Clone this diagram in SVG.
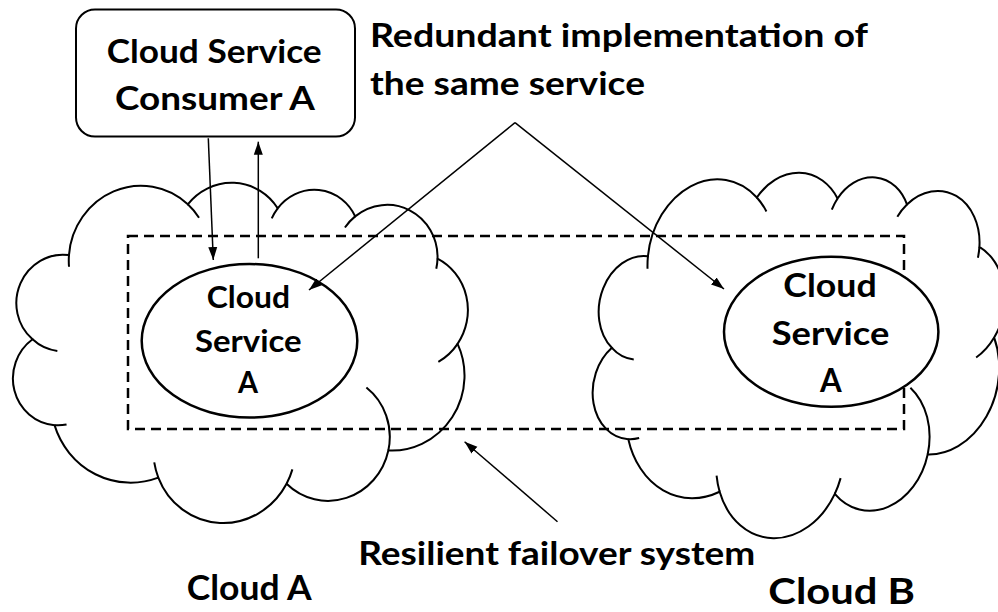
<svg xmlns="http://www.w3.org/2000/svg" width="998" height="612" viewBox="0 0 998 612">
<defs>
<style>
.cl{fill:none;stroke:#000;stroke-width:2;vector-effect:non-scaling-stroke}
.el{fill:#fff;stroke:#000;stroke-width:2.5}
.box{fill:#fff;stroke:#000;stroke-width:2}
.dash{fill:none;stroke:#000;stroke-width:2.5;stroke-dasharray:10 6}
.ln{fill:none;stroke:#000;stroke-width:1.5;marker-end:url(#ah)}
.t{font-family:Lato,"Open Sans","Liberation Sans",sans-serif;font-weight:700;fill:#000}
</style>
<marker id="ah" markerUnits="userSpaceOnUse" markerWidth="14" markerHeight="10" refX="13" refY="5" orient="auto">
<path d="M0,0.5 L13,5 L0,9.5 z" fill="#000"/>
</marker>
</defs>
<rect width="998" height="612" fill="#fff"/>

<g id="cloudA" transform="translate(239.5,349.4) rotate(11.6) scale(0.010509,0.0080324) translate(-21600,-21600)">
<path class="cl" d="M3900 14370 A6753 9190 0 0 1 14005 5202 A5333 7267 0 0 1 22459 3434 A4365 5945 0 0 1 29836 2482 A4857 6595 0 0 1 38322 5576 A5333 7273 0 0 1 41822 15460 A6775 9220 0 0 1 37408 30203 A5785 7867 0 0 1 28559 36813 A6752 9215 0 0 1 16484 39265 A7720 10543 0 0 1 5807 35469 A4360 5918 0 0 1 2116 25548 A4345 5945 0 0 1 3900 14370 Z"/>
<path class="cl" d="M4649 26344 A4345 5945 0 0 1 2116 25548 M6915 35088 A4360 5918 0 0 1 5807 35469 M16484 39265 A6752 9215 0 0 1 15816 37523 M28826 34904 A6752 9215 0 0 1 28559 36813 M34157 23068 A5785 7867 0 0 1 37408 30203 M41822 15460 A5333 7273 0 0 1 40374 18137 M38322 5576 A4857 6595 0 0 1 38398 6840 M29095 4094 A4857 6595 0 0 1 29836 2482 M22100 4823 A4365 5945 0 0 1 22459 3434 M14005 5202 A6753 9190 0 0 1 15308 6555 M4127 15788 A6753 9190 0 0 1 3900 14370"/>
</g>

<g id="cloudB" transform="translate(797.7,351.3) rotate(11.7) scale(0.009375,0.0086806) translate(-21600,-21600)">
<path class="cl" d="M3900 14370 A6753 9190 0 0 1 14005 5202 A5333 7267 0 0 1 22459 3434 A4365 5945 0 0 1 29836 2482 A4857 6595 0 0 1 38322 5576 A5333 7273 0 0 1 41822 15460 A6775 9220 0 0 1 37408 30203 A5785 7867 0 0 1 28559 36813 A6752 9215 0 0 1 16484 39265 A7720 10543 0 0 1 5807 35469 A4360 5918 0 0 1 2116 25548 A4345 5945 0 0 1 3900 14370 Z"/>
<path class="cl" d="M4649 26344 A4345 5945 0 0 1 2116 25548 M6915 35088 A4360 5918 0 0 1 5807 35469 M16484 39265 A6752 9215 0 0 1 15816 37523 M28826 34904 A6752 9215 0 0 1 28559 36813 M34157 23068 A5785 7867 0 0 1 37408 30203 M41822 15460 A5333 7273 0 0 1 40374 18137 M38322 5576 A4857 6595 0 0 1 38398 6840 M29095 4094 A4857 6595 0 0 1 29836 2482 M22100 4823 A4365 5945 0 0 1 22459 3434 M14005 5202 A6753 9190 0 0 1 15308 6555 M4127 15788 A6753 9190 0 0 1 3900 14370"/>
</g>

<g id="failoverSystem">
<rect class="dash" x="128" y="236" width="776" height="193"/>
</g>

<g id="consumer">
<rect class="box" x="76" y="9.5" width="279" height="127" rx="19" ry="19"/>
<text class="t" x="106.7" y="63.3" font-size="32.5" textLength="215" lengthAdjust="spacingAndGlyphs">Cloud Service</text>
<text class="t" x="115" y="110" font-size="32.5" textLength="200" lengthAdjust="spacingAndGlyphs">Consumer A</text>
</g>

<g id="serviceA">
<ellipse class="el" cx="249.5" cy="340.8" rx="107.8" ry="76.8"/>
<text class="t" x="206.7" y="308.3" font-size="30" textLength="83.3" lengthAdjust="spacingAndGlyphs">Cloud</text>
<text class="t" x="195" y="351.7" font-size="30" textLength="106.7" lengthAdjust="spacingAndGlyphs">Service</text>
<text class="t" x="238" y="393.3" font-size="30" textLength="20" lengthAdjust="spacingAndGlyphs">A</text>
</g>

<g id="serviceB">
<ellipse class="el" cx="831.2" cy="331.7" rx="107.2" ry="75"/>
<text class="t" x="783.3" y="296.7" font-size="33" textLength="93.4" lengthAdjust="spacingAndGlyphs">Cloud</text>
<text class="t" x="771.7" y="345" font-size="33" textLength="117.6" lengthAdjust="spacingAndGlyphs">Service</text>
<text class="t" x="820" y="391.7" font-size="33" textLength="21.7" lengthAdjust="spacingAndGlyphs">A</text>
</g>

<g id="connectors">
<line class="ln" x1="208.3" y1="138.3" x2="213.3" y2="260"/>
<line class="ln" x1="258.3" y1="258.3" x2="258.3" y2="141.7"/>
<line class="ln" x1="515" y1="122.7" x2="309" y2="290"/>
<line class="ln" x1="515" y1="122.7" x2="724" y2="289"/>
<line class="ln" x1="557.5" y1="521.7" x2="464.6" y2="441.7"/>
</g>

<g id="labels">
<text class="t" x="370" y="46.7" font-size="32.5" textLength="498" lengthAdjust="spacingAndGlyphs">Redundant implementation of</text>
<text class="t" x="370" y="95" font-size="32.5" textLength="275" lengthAdjust="spacingAndGlyphs">the same service</text>
<text class="t" x="358.3" y="565" font-size="32.5" textLength="397" lengthAdjust="spacingAndGlyphs">Resilient failover system</text>
<text class="t" x="186.7" y="600" font-size="33.5" textLength="125" lengthAdjust="spacingAndGlyphs">Cloud A</text>
<text class="t" x="768.3" y="604" font-size="36" textLength="146.7" lengthAdjust="spacingAndGlyphs">Cloud B</text>
</g>
</svg>
